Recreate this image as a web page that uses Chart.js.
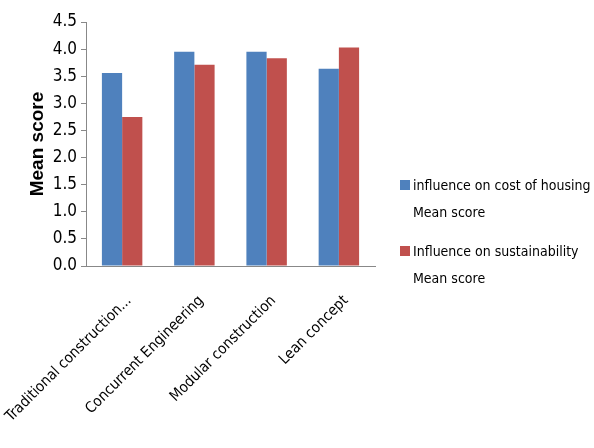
<!DOCTYPE html>
<html><head><meta charset="utf-8">
<script src="https://cdn.jsdelivr.net/npm/chart.js@4/dist/chart.umd.min.js"></script>
<style>
html,body{margin:0;padding:0;background:#fff;}
#wrap{position:relative;width:594px;height:448px;overflow:hidden;}
canvas{position:absolute;left:0;top:0;}
.leg{position:absolute;left:400px;font-family:"DejaVu Sans Condensed","Liberation Sans Narrow",Roboto,sans-serif;font-stretch:condensed;font-size:14px;color:#000;line-height:27px;white-space:nowrap;}
.sw{position:absolute;left:0;top:8px;width:10px;height:10px;}
.lt{position:absolute;left:13px;top:0;}
</style></head><body>
<div id="wrap">
<canvas id="c" width="594" height="448"></canvas>
<div class="leg" style="top:172px"><div class="sw" style="background:#4F81BD"></div><div class="lt">influence on cost of housing<br>Mean score</div></div>
<div class="leg" style="top:238px"><div class="sw" style="background:#C0504D"></div><div class="lt">Influence on sustainability<br>Mean score</div></div>
</div>
<script>
const categories = ["Traditional construction...", "Concurrent Engineering", "Modular construction", "Lean concept"];
const costScores = [3.56, 3.95, 3.95, 3.64];
const sustainScores = [2.75, 3.71, 3.83, 4.03];
const seriesNames = ["influence on cost of housing Mean score", "Influence on sustainability Mean score"];
const yTicks = [0, 0.5, 1, 1.5, 2, 2.5, 3, 3.5, 4, 4.5];

const narrow = '"DejaVu Sans Condensed","Liberation Sans Narrow",Roboto,sans-serif';
new Chart(document.getElementById('c'), {
  type: 'bar',
  data: {
    labels: categories,
    datasets: [
      {label: seriesNames[0], data: costScores, backgroundColor: '#4F81BD', categoryPercentage: 0.56, barPercentage: 1.0},
      {label: seriesNames[1], data: sustainScores, backgroundColor: '#C0504D', categoryPercentage: 0.56, barPercentage: 1.0}
    ]
  },
  options: {
    responsive: false,
    animation: false,
    layout: {padding: {top: 22, right: 219, left: 0, bottom: 0}},
    plugins: {legend: {display: false}, tooltip: {enabled: false}},
    scales: {
      x: {
        grid: {drawOnChartArea: false, drawTicks: false, color: '#888'},
        border: {color: '#888'},
        ticks: {color: '#000', font: {family: narrow, size: 15}, padding: 26, labelOffset: 7, minRotation: 45, maxRotation: 45, autoSkip: false},
        afterFit: s => { s.height = 182; s.paddingLeft = 0; s.paddingRight = 0; }
      },
      y: {
        min: 0, max: 4.5,
        afterBuildTicks: s => { s.ticks = yTicks.map(v => ({value: v})); },
        grid: {drawOnChartArea: false, color: '#888', tickLength: 5},
        border: {color: '#888'},
        ticks: {color: '#000', font: {family: narrow, size: 17}, padding: 4, callback: v => Number(v).toFixed(1)},
        title: {display: true, text: 'Mean score', color: '#000', padding: {top: 26, bottom: 0}, font: {family: '"Liberation Sans",Arial,sans-serif', size: 19, weight: 'bold'}},
        afterFit: s => { s.width = 86; s.paddingTop = 0; s.paddingBottom = 0; }
      }
    }
  }
});
</script>
</body></html>
